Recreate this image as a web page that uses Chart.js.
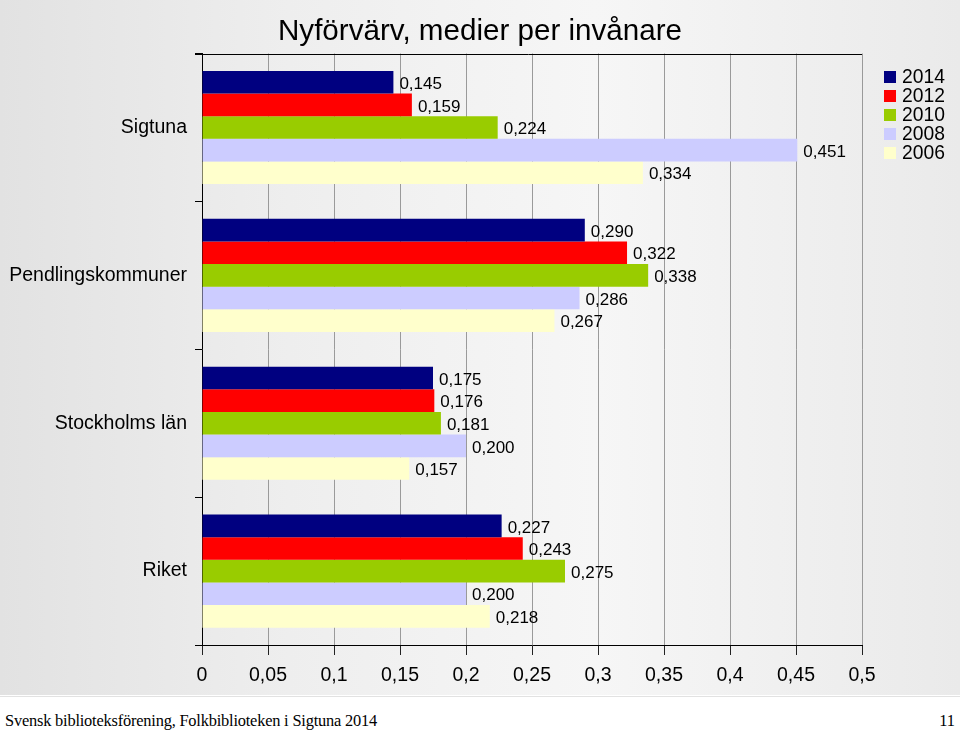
<!DOCTYPE html>
<html>
<head>
<meta charset="utf-8">
<script src="https://cdn.jsdelivr.net/npm/chart.js@4"></script>
<style>
  html, body { margin: 0; padding: 0; background: #ffffff; }
  #wrap { position: relative; width: 960px; height: 730px; overflow: hidden; }
  #panel { position: absolute; left: 0; top: 0; width: 960px; height: 695px;
           background: linear-gradient(to right, #e2e2e2 0%, #eeeeee 30%, #f6f6f6 62%, #eaeaea 100%); }
  #c { position: absolute; left: 0; top: 0; }
  #footer { position: absolute; left: 0; top: 696px; width: 960px; height: 34px;
            border-top: 1px solid #e2e2e2; background: #ffffff;
            font-family: 'Liberation Serif', 'DejaVu Serif', serif; font-size: 16.4px; color: #000; }
  #footer .l { position: absolute; left: 5px; top: 14px; letter-spacing: -0.2px; }
  #footer .r { position: absolute; right: 5px; top: 14px; }
</style>
</head>
<body>
<div id="wrap">
  <div id="panel"></div>
  <canvas id="c" width="960" height="695"></canvas>
  <div id="footer"><span class="l">Svensk biblioteksförening, Folkbiblioteken i Sigtuna 2014</span><span class="r">11</span></div>
</div>
<script>
// ---- Data ----
const categories = ['Sigtuna', 'Pendlingskommuner', 'Stockholms län', 'Riket'];
const seriesNames = ['2014', '2012', '2010', '2008', '2006'];
const values2014 = [0.145, 0.290, 0.175, 0.227];
const values2012 = [0.159, 0.322, 0.176, 0.243];
const values2010 = [0.224, 0.338, 0.181, 0.275];
const values2008 = [0.451, 0.286, 0.200, 0.200];
const values2006 = [0.334, 0.267, 0.157, 0.218];
const xTickLabels = ['0', '0,05', '0,1', '0,15', '0,2', '0,25', '0,3', '0,35', '0,4', '0,45', '0,5'];
const seriesColors = ['#000080', '#ff0000', '#99cc00', '#ccccff', '#ffffcc'];

const allValues = [values2014, values2012, values2010, values2008, values2006];
const FONT = "'Liberation Sans', Arial, sans-serif";

const datasets = seriesNames.map((name, i) => ({
  label: name,
  data: allValues[i],
  backgroundColor: seriesColors[i],
  borderWidth: 0,
  categoryPercentage: 0.765,
  barPercentage: 1.0,
  yAxisID: 'y'
}));

const valueLabels = {
  id: 'valueLabels',
  afterDatasetsDraw(chart) {
    const ctx = chart.ctx;
    ctx.save();
    ctx.font = '17px ' + FONT;
    ctx.fillStyle = '#000';
    ctx.textAlign = 'left';
    ctx.textBaseline = 'middle';
    chart.data.datasets.forEach((ds, di) => {
      const meta = chart.getDatasetMeta(di);
      meta.data.forEach((bar, i) => {
        const v = ds.data[i];
        const txt = v.toFixed(3).replace('.', ',');
        ctx.fillText(txt, bar.x + 6, bar.y + 2);
      });
    });
    ctx.restore();
  }
};

const frameAndLegend = {
  id: 'frameAndLegend',
  afterDraw(chart) {
    const ctx = chart.ctx;
    const a = chart.chartArea;
    ctx.save();
    ctx.strokeStyle = '#000';
    ctx.lineWidth = 1;
    ctx.beginPath();
    ctx.moveTo(a.left - 7, Math.round(a.top) + 0.5);
    ctx.lineTo(a.right, Math.round(a.top) + 0.5);
    ctx.stroke();
    ctx.font = '19.3px ' + FONT;
    ctx.textAlign = 'left';
    ctx.textBaseline = 'middle';
    chart.data.datasets.forEach((ds, i) => {
      const cy = 77 + i * 19;
      ctx.fillStyle = ds.backgroundColor;
      ctx.fillRect(884, cy - 6, 12, 12);
      ctx.fillStyle = '#000';
      ctx.fillText(ds.label, 902, cy + 1);
    });
    ctx.restore();
  }
};

new Chart(document.getElementById('c'), {
  type: 'bar',
  data: { labels: categories, datasets },
  options: {
    indexAxis: 'y',
    responsive: false,
    animation: false,
    devicePixelRatio: 1,
    layout: { padding: { left: 0, right: 0, top: 0, bottom: 0 } },
    plugins: {
      legend: { display: false },
      tooltip: { enabled: false },
      title: {
        display: true,
        text: 'Nyförvärv, medier per invånare',
        color: '#000',
        font: { family: FONT, size: 29.6, weight: 'normal' },
        padding: { top: 14, bottom: 4 }
      }
    },
    scales: {
      x: {
        type: 'linear',
        min: 0,
        max: 0.5,
        ticks: {
          stepSize: 0.05,
          color: '#000',
          font: { family: FONT, size: 19.5 },
          padding: 9,
          maxRotation: 0,
          autoSkip: false,
          callback: (v, idx) => xTickLabels[idx]
        },
        grid: {
          color: '#9a9a9a',
          lineWidth: 1,
          tickLength: 10,
          tickColor: '#222',
          drawOnChartArea: true
        },
        border: { display: true, color: '#000', width: 1 },
        afterFit: (s) => { s.height = 50; }
      },
      y: {
        type: 'category',
        position: 'left',
        ticks: {
          color: '#000',
          font: { family: FONT, size: 19.5 },
          padding: 8
        },
        grid: {
          offset: true,
          drawOnChartArea: false,
          tickLength: 7,
          color: '#000'
        },
        border: { display: true, color: '#000', width: 1 },
        afterFit: (s) => { s.width = 202; }
      },
      yRight: {
        type: 'category',
        position: 'right',
        display: true,
        ticks: { display: false },
        grid: { display: false, drawTicks: false },
        border: { display: false },
        afterFit: (s) => { s.width = 98; }
      }
    }
  },
  plugins: [valueLabels, frameAndLegend]
});
</script>
</body>
</html>
